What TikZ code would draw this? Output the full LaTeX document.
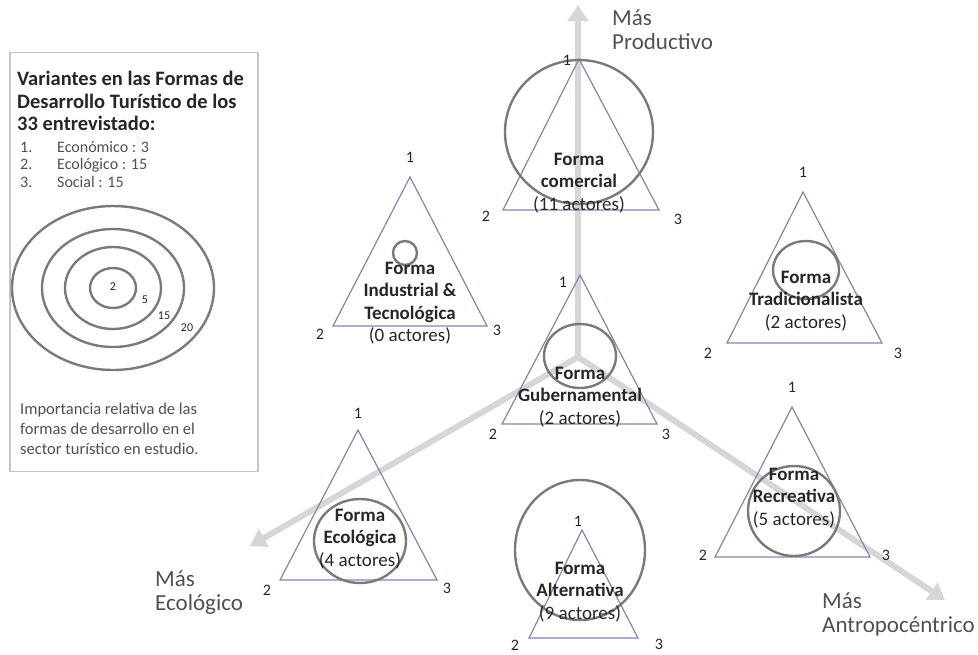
\documentclass[tikz,border=0pt]{standalone}
\usepackage{fontspec}
\setmainfont{Carlito}
\usepackage{xcolor}
\usepackage{tikz}
\usetikzlibrary{arrows.meta, positioning}

\definecolor{axisgray}{RGB}{214,214,214}
\definecolor{trianglecol}{RGB}{132,132,172}
\definecolor{ringgray}{RGB}{122,122,122}
\definecolor{boxgray}{RGB}{196,196,196}
\definecolor{txtdark}{RGB}{38,38,38}
\definecolor{txtgray}{RGB}{80,80,80}

\newcommand{\fb}[1]{\textbf{#1}}

\begin{document}
\begin{tikzpicture}[x=1pt, y=-1pt,
            axis/.style={draw=axisgray, line width=6pt, -{Triangle[length=16pt, width=20pt]}},
            tri/.style={draw=trianglecol, line width=1.2pt},
            ring/.style={draw=ringgray, line width=2.4pt},
            num/.style={font=\fontsize{16}{18}\selectfont, text=txtdark, inner sep=0pt},
            forma/.style={font=\fontsize{19}{22.5}\selectfont, text=txtdark, align=center, inner sep=0pt},
            axlabel/.style={font=\fontsize{23}{24}\selectfont, text=txtgray, align=left, inner sep=0pt, anchor=north west},
            legendbox/.style={draw=boxgray, line width=1.5pt, minimum width=248pt, minimum height=419pt, inner sep=0pt},
            ringnum/.style={font=\fontsize{12}{14}\selectfont, text=txtdark, inner sep=0pt}
        ]
        \useasboundingbox (0,0) rectangle (978,654);

        % Legend
        \node[legendbox] (legend) at (134,262) {};
        \node[font=\bfseries\fontsize{20.5}{22.5}\selectfont, text=txtdark, align=left, inner sep=0pt, anchor=north west]
            (title) at (17,71) {Variantes en las Formas de\\Desarrollo Turístico de los\\33 entrevistado:};
        \node[font=\fontsize{16}{17.5}\selectfont, text=txtgray, align=left, inner sep=0pt, anchor=north west]
            (list) at (20,141) {\makebox[37pt][l]{1.}Económico : 3\\\makebox[37pt][l]{2.}Ecológico : 15\\\makebox[37pt][l]{3.}Social : 15};
        \draw[ring] (113,288) ellipse [x radius=101, y radius=82];
        \draw[ring] (113,288) ellipse [x radius=71, y radius=59];
        \draw[ring] (113,288) ellipse [x radius=48, y radius=41];
        \draw[ring] (113,288) ellipse [x radius=23, y radius=20];
        \node[ringnum] (r2) at (113,287) {2};
        \node[ringnum] (r5) at (145,300) {5};
        \node[ringnum] (r15) at (164,316) {15};
        \node[ringnum] (r20) at (187,328) {20};
        \node[font=\fontsize{16.5}{20}\selectfont, text=txtgray, align=left, inner sep=0pt, anchor=north west]
            (note) at (20,403) {Importancia relativa de las\\formas de desarrollo en el\\sector turístico en estudio.};

        % Axes
        \coordinate (O) at (578,357);
        \coordinate (prod) at (578,5);
        \coordinate (ecol) at (250,546);
        \coordinate (antr) at (945,600);
        \draw[axis] (O) -- (prod);
        \draw[axis] (O) -- (ecol);
        \draw[axis] (O) -- (antr);
        \node[axlabel] (lprod) at (612,10) {Más\\Productivo};
        \node[axlabel] (lecol) at (155,571) {Más\\Ecológico};
        \node[axlabel] (lantr) at (822,593) {Más\\Antropocéntrico};

        % Forma comercial
        \coordinate (com1) at (579,59);
        \coordinate (com2) at (503,210);
        \coordinate (com3) at (659,210);
        \draw[tri] (com1) -- (com2) -- (com3) -- cycle;
        \draw[ring] (579,132) ellipse [x radius=74, y radius=72];
        \node[num] at (567,60) {1};
        \node[num] at (486,216) {2};
        \node[num] at (678,219) {3};

        % Forma industrial
        \coordinate (ind1) at (410,177);
        \coordinate (ind2) at (333,326);
        \coordinate (ind3) at (487,326);
        \draw[tri] (ind1) -- (ind2) -- (ind3) -- cycle;
        \draw[ring] (405,253) circle [radius=12];
        \node[num] at (410,157) {1};
        \node[num] at (320,334) {2};
        \node[num] at (497,330) {3};

        % Forma tradicionalista
        \coordinate (tra1) at (803,192);
        \coordinate (tra2) at (727,343);
        \coordinate (tra3) at (882,343);
        \draw[tri] (tra1) -- (tra2) -- (tra3) -- cycle;
        \draw[ring] (806,270) ellipse [x radius=33, y radius=29];
        \node[num] at (803,172) {1};
        \node[num] at (708,353) {2};
        \node[num] at (898,353) {3};

        % Forma gubernamental
        \coordinate (gub1) at (580,275);
        \coordinate (gub2) at (502,424);
        \coordinate (gub3) at (657,424);
        \draw[tri] (gub1) -- (gub2) -- (gub3) -- cycle;
        \draw[ring] (580,356) ellipse [x radius=36, y radius=32];
        \node[num] at (563,282) {1};
        \node[num] at (493,434) {2};
        \node[num] at (666,434) {3};

        % Forma recreativa
        \coordinate (rec1) at (792,407);
        \coordinate (rec2) at (715,557);
        \coordinate (rec3) at (870,557);
        \draw[tri] (rec1) -- (rec2) -- (rec3) -- cycle;
        \draw[ring] (794,511) ellipse [x radius=46, y radius=45];
        \node[num] at (792,387) {1};
        \node[num] at (703,555) {2};
        \node[num] at (886,555) {3};

        % Forma ecologica
        \coordinate (eco1) at (358,430);
        \coordinate (eco2) at (280,580);
        \coordinate (eco3) at (437,580);
        \draw[tri] (eco1) -- (eco2) -- (eco3) -- cycle;
        \draw[ring] (360,541) ellipse [x radius=46, y radius=42];
        \node[num] at (358,413) {1};
        \node[num] at (267,590) {2};
        \node[num] at (447,588) {3};

        % Forma alternativa
        \coordinate (alt1) at (582,530);
        \coordinate (alt2) at (529,638);
        \coordinate (alt3) at (638,638);
        \draw[tri] (alt1) -- (alt2) -- (alt3) -- cycle;
        \draw[ring] (580,550) ellipse [x radius=65, y radius=70];
        \node[num] at (578,521) {1};
        \node[num] at (515,645) {2};
        \node[num] at (659,644) {3};

        % Texts
        \node[forma] (tcom) at (579,183) {\fb{Forma}\\\fb{comercial}\\(11 actores)};
        \node[forma] (tind) at (410,303) {\fb{Forma}\\\fb{Industrial \&}\\\fb{Tecnológica}\\(0 actores)};
        \node[forma] (ttra) at (806,301) {\fb{Forma}\\\fb{Tradicionalista}\\(2 actores)};
        \node[forma] (tgub) at (580,397) {\fb{Forma}\\\fb{Gubernamental}\\(2 actores)};
        \node[forma] (trec) at (794,498) {\fb{Forma}\\\fb{Recreativa}\\(5 actores)};
        \node[forma] (teco) at (360,539) {\fb{Forma}\\\fb{Ecológica}\\(4 actores)};
        \node[forma] (talt) at (580,592) {\fb{Forma}\\\fb{Alternativa}\\(9 actores)};

    \end{tikzpicture}
\end{document}
